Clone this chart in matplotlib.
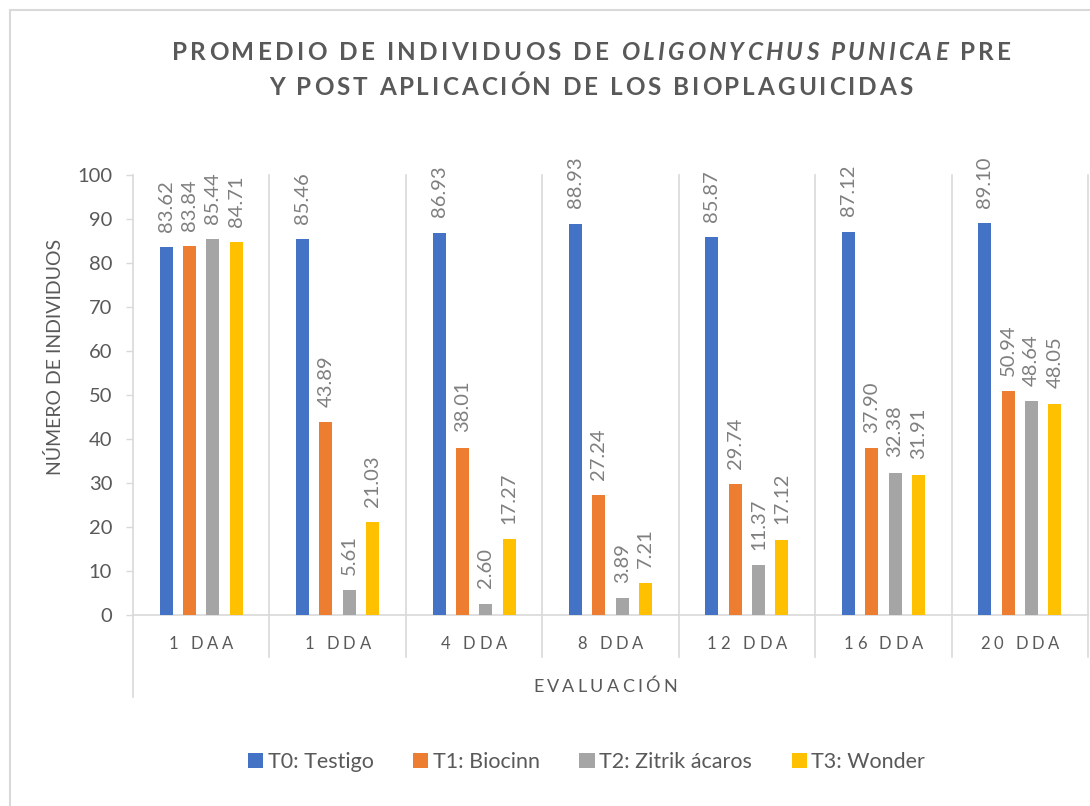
import matplotlib
matplotlib.use("Agg")
import matplotlib.pyplot as plt
from matplotlib.font_manager import FontProperties
from matplotlib.patches import Patch
import numpy as np

plt.rcParams['font.family'] = ['Lato', 'DejaVu Sans']

# ---------------------- DATA ------------------------
categories = ['1 DAA', '1 DDA', '4 DDA', '8 DDA', '12 DDA', '16 DDA', '20 DDA']
series_names = ['T0: Testigo', 'T1: Biocinn', 'T2: Zitrik ácaros', 'T3: Wonder']
t0_testigo = [83.62, 85.46, 86.93, 88.93, 85.87, 87.12, 89.10]
t1_biocinn = [83.84, 43.89, 38.01, 27.24, 29.74, 37.90, 50.94]
t2_zitrik = [85.44, 5.61, 2.60, 3.89, 11.37, 32.38, 48.64]
t3_wonder = [84.71, 21.03, 17.27, 7.21, 17.12, 31.91, 48.05]
series_values = [t0_testigo, t1_biocinn, t2_zitrik, t3_wonder]
colors = ['#4472C4', '#ED7D31', '#A5A5A5', '#FFC000']

TXT = '#595959'
LBL = '#7F7F7F'
GRID = '#D9D9D9'
W, H = 1090, 806

fig = plt.figure(figsize=(W / 100, H / 100), dpi=100)
ax = fig.add_axes([133 / W, 1 - 615 / H, 955 / W, 440 / H])

# ---------------------- BARS ------------------------
x = np.arange(len(categories))
step, bw = 0.171, 0.095
for i, (vals, col) in enumerate(zip(series_values, colors)):
    bars = ax.bar(x + (i - 1.5) * step, vals, bw, color=col, label=series_names[i], zorder=3)
    ax.bar_label(bars, fmt='%.2f', rotation=90, padding=11, fontsize=14.5, color=LBL)

ax.set_xlim(-0.5, len(categories) - 0.5)
ax.set_ylim(0, 100)
ax.set_yticks(np.arange(0, 101, 10))
ax.tick_params(axis='y', labelsize=14.5, labelcolor=TXT, color=GRID, length=5, width=1, pad=10)
ax.set_xticks([])
for s in ['top', 'right']:
    ax.spines[s].set_visible(False)
for s in ['left', 'bottom']:
    ax.spines[s].set_color(GRID)
    ax.spines[s].set_linewidth(1.2)

# category separators (Excel multi-level axis look)
xt = ax.get_xaxis_transform()
for b in np.arange(0.5, len(categories) - 0.5):
    ax.plot([b, b], [1, -42 / 440], transform=xt, color=GRID, lw=1.2, clip_on=False, zorder=1)
ax.plot([len(categories) - 0.5] * 2, [1, -42 / 440], transform=xt, color=GRID, lw=1.2, clip_on=False)
ax.plot([-0.5, -0.5], [0, -82 / 440], transform=xt, color=GRID, lw=1.2, clip_on=False)

ax.text(-0.0817, 0.5875, 'NÚMERO DE INDIVIDUOS', transform=ax.transAxes, rotation=90,
        ha='center', va='center', fontsize=14, color=TXT)

# ---------------------- LETTER-SPACED TEXT ------------------------
renderer = fig.canvas.get_renderer()


def spaced_text(cx, base_y, parts, spacing, size, weight='normal'):
    """Draw text centred at cx (pixels from left), baseline at base_y (pixels from top)."""
    chars = []
    for s, style in parts:
        fp = FontProperties(family=['Lato', 'DejaVu Sans'], size=size, weight=weight, style=style)
        w0 = renderer.get_text_width_height_descent('HH', fp, ismath=False)[0]
        for ch in s:
            w = renderer.get_text_width_height_descent('H' + ch + 'H', fp, ismath=False)[0] - w0
            chars.append((ch, style, w))
    total = sum(c[2] for c in chars) + spacing * (len(chars) - 1)
    px = cx - total / 2
    for ch, style, w in chars:
        fig.text(px / W, 1 - base_y / H, ch, fontsize=size, fontweight=weight,
                 fontstyle=style, color=TXT, ha='left', va='baseline')
        px += w + spacing


spaced_text(591.5, 60, [('PROMEDIO DE INDIVIDUOS DE ', 'normal'),
                        ('OLIGONYCHUS PUNICAE', 'italic'),
                        (' PRE', 'normal')], 3.2, 17.5, weight='bold')
spaced_text(590.5, 95, [('Y POST APLICACIÓN DE LOS BIOPLAGUICIDAS', 'normal')], 2.9, 17.5, weight='bold')

for i, cat in enumerate(categories):
    cx = ax.transData.transform((i, 0))[0]
    spaced_text(cx, 649, [(cat, 'normal')], 4.0, 12)

spaced_text(605, 692, [('EVALUACIÓN', 'normal')], 3.3, 13)

# ---------------------- LEGEND ------------------------
handles = [Patch(facecolor=c, edgecolor='none') for c in colors]
fig.legend(handles, series_names, loc='center', bbox_to_anchor=(586.5 / W, 1 - 762 / H),
           ncol=4, frameon=False, fontsize=15.5, handlelength=0.7, handleheight=0.7,
           handletextpad=0.2, columnspacing=1.85, labelcolor=TXT)

# chart border (left and top edges visible)
fig.add_artist(plt.Line2D([10 / W, 10 / W], [0, 1 - 10 / H], transform=fig.transFigure, color=GRID, lw=1.5))
fig.add_artist(plt.Line2D([10 / W, 1], [1 - 10 / H, 1 - 10 / H], transform=fig.transFigure, color=GRID, lw=1.5))

fig.savefig('out.png', dpi=100)
